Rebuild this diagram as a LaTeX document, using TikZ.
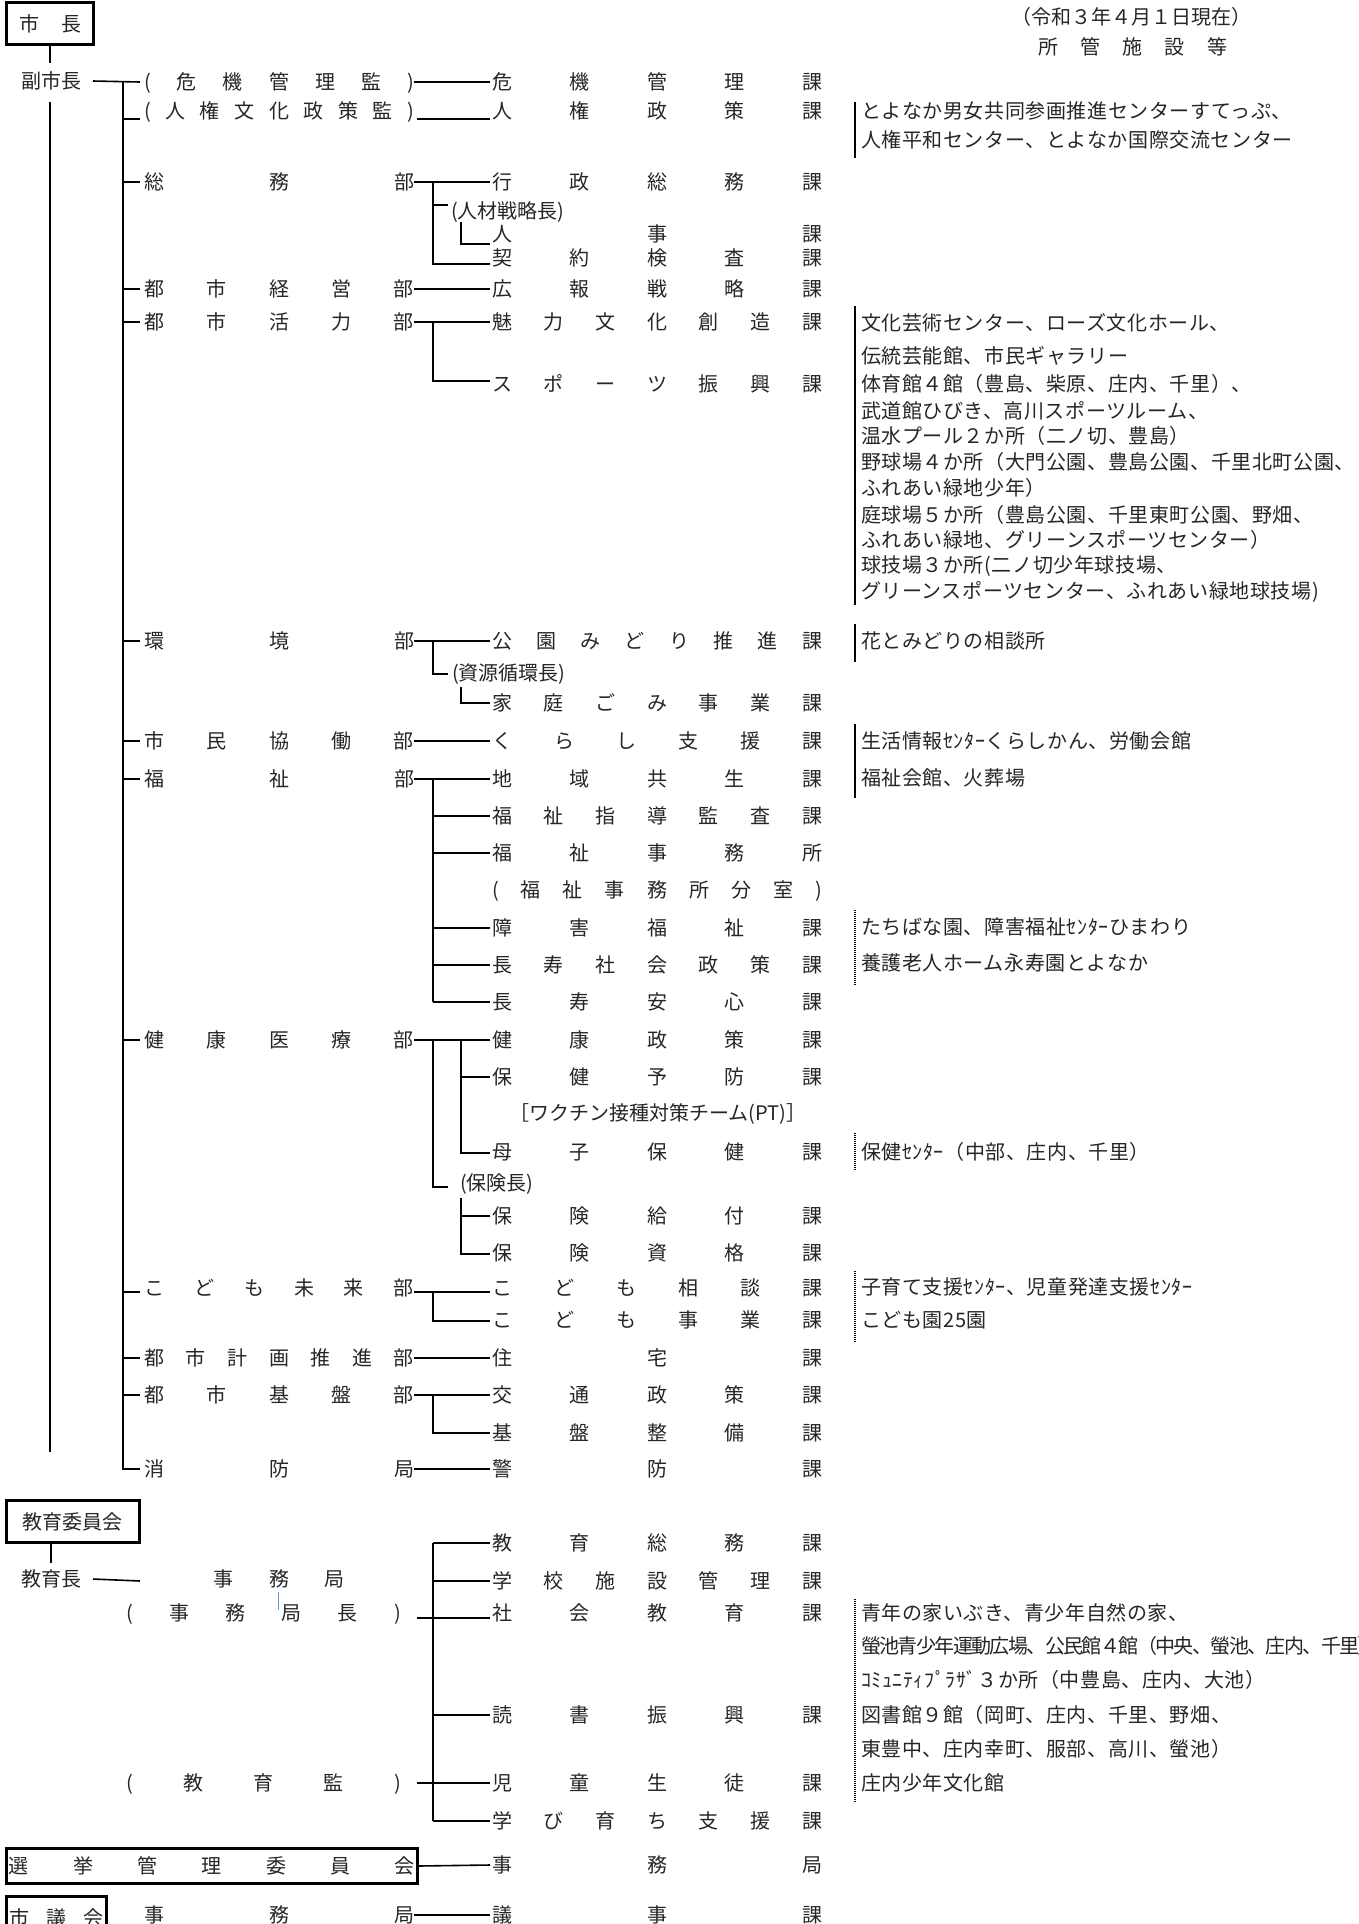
\documentclass[tikz,border=0pt]{standalone}
\usepackage{fontspec}
\newfontfamily\jp{Noto Sans CJK JP}
\newfontfamily\jpwide[LetterSpace=3]{Noto Sans CJK JP}
\newfontfamily\jpnarrow[LetterSpace=-8]{Noto Sans CJK JP}
\definecolor{ink}{HTML}{262626}
\definecolor{bluetick}{RGB}{91,155,213}
\tikzset{
  lbl/.style={inner sep=0pt, outer sep=0pt, text height=8.8pt, text depth=1.2pt,
              font={\jp\fontsize{10pt}{12pt}\selectfont}, text=ink},
  rlbl/.style={lbl, font={\jpwide\fontsize{10pt}{12pt}\selectfont}},
  conn/.style={line width=0.8pt},
  spine/.style={line width=0.55pt},
  frame/.style={lbl, draw, line width=1.5pt},
  solidbar/.style={line width=0.8pt},
  dotbar/.style={line width=0.9pt, dash pattern=on 0.5pt off 0.5pt},
}
\newcommand\kaT[3]{\node[lbl,anchor=west] (#1) at (492,#2) {\makebox[165pt][s]{#3}};}
\newcommand\buT[3]{\node[lbl,anchor=west] (#1) at (144,#2) {\makebox[135pt][s]{#3}};}
\newcommand\riT[3]{\node[rlbl,anchor=west] (#1) at (861,#2) {#3};}
\begin{document}
\begin{tikzpicture}[x=0.5pt,y=-0.5pt]
\useasboundingbox (0,0) rectangle (1359,1924);
\fill[white] (0,0) rectangle (1359,1924);

% ---------- top ----------
\node[frame, minimum width=43.5pt, minimum height=21pt] (mayor) at (50,23.5) {\makebox[31pt][s]{市 長}};
\node[lbl] (vmayor) at (51,81) {副市長};
\draw[conn] (mayor.south) -- ++(0,18);
\draw[spine] (50,102) -- (50,1452);
\draw[conn] ([xshift=6pt]vmayor.east) -- (140,82);
\draw[conn] (123,82) -- (123,1469) -- (140,1469);

% ---------- department column ----------
\buT{kikikanrikan}{82}{( 危 機 管 理 監 )}
\buT{jinkenkan}{111}{( 人 権 文 化 政 策 監 )}
\buT{somu}{182}{総 務 部}
\buT{toshikeiei}{289}{都 市 経 営 部}
\buT{toshikatsu}{322}{都 市 活 力 部}
\buT{kankyo}{641}{環 境 部}
\buT{shimin}{741}{市 民 協 働 部}
\buT{fukushi}{779}{福 祉 部}
\buT{kenko}{1040}{健 康 医 療 部}
\buT{kodomo}{1288}{こ ど も 未 来 部}
\buT{toshikeikaku}{1358}{都 市 計 画 推 進 部}
\buT{toshikiban}{1395}{都 市 基 盤 部}
\buT{shobo}{1469}{消 防 局}

% ticks from trunk
\draw[conn] (123,119) -- (140,119);
\foreach \yy in {182,289,322,641,741,779,1040,1292,1358,1395}
  \draw[conn] (123,\yy) -- (140,\yy);

% ---------- section column ----------
\kaT{kiki}{82}{危 機 管 理 課}
\kaT{jinken}{111}{人 権 政 策 課}
\kaT{gyosei}{182}{行 政 総 務 課}
\kaT{jinji}{234}{人 事 課}
\kaT{keiyaku}{258}{契 約 検 査 課}
\kaT{koho}{289}{広 報 戦 略 課}
\kaT{miryoku}{322}{魅 力 文 化 創 造 課}
\kaT{sports}{384}{ス ポ ー ツ 振 興 課}
\kaT{koen}{641}{公 園 み ど り 推 進 課}
\kaT{gomi}{703}{家 庭 ご み 事 業 課}
\kaT{kurashi}{741}{く ら し 支 援 課}
\kaT{chiiki}{779}{地 域 共 生 課}
\kaT{shido}{816}{福 祉 指 導 監 査 課}
\kaT{jimusho}{853}{福 祉 事 務 所}
\kaT{bunshitsu}{890}{( 福 祉 事 務 所 分 室 )}
\kaT{shogai}{928}{障 害 福 祉 課}
\kaT{chojushakai}{965}{長 寿 社 会 政 策 課}
\kaT{chojuanshin}{1002}{長 寿 安 心 課}
\kaT{kenkoseisaku}{1040}{健 康 政 策 課}
\kaT{hokenyobo}{1077}{保 健 予 防 課}
\node[lbl] (vaccine) at (658,1113) {［ワクチン接種対策チーム(PT)］};
\kaT{boshi}{1152}{母 子 保 健 課}
\kaT{kyufu}{1216}{保 険 給 付 課}
\kaT{shikaku}{1253}{保 険 資 格 課}
\kaT{kodomosodan}{1288}{こ ど も 相 談 課}
\kaT{kodomojigyo}{1320}{こ ど も 事 業 課}
\kaT{jutaku}{1358}{住 宅 課}
\kaT{kotsu}{1395}{交 通 政 策 課}
\kaT{kiban}{1433}{基 盤 整 備 課}
\kaT{keibo}{1469}{警 防 課}

\node[lbl,anchor=west] (jinzai) at (451,211) {(人材戦略長)};
\node[lbl,anchor=west] (shigen) at (452,673) {(資源循環長)};
\node[lbl,anchor=west] (hokencho) at (460,1183) {(保険長)};

% connectors dept -> section
\draw[conn] (kikikanrikan.east) -- ([xshift=-1pt]kiki.west);
\draw[conn] (417,119) -- (490,119);
\draw[conn] (somu.east) -- ([xshift=-1pt]gyosei.west);
\draw[conn] (433,182) -- (433,264) -- (490,264);
\draw[conn] (433,205) -- (448,205);
\draw[conn] (461,222) -- (461,244) -- (490,244);
\draw[conn] (toshikeiei.east) -- ([xshift=-1pt]koho.west);
\draw[conn] (toshikatsu.east) -- ([xshift=-1pt]miryoku.west);
\draw[conn] (433,322) |- (490,381);
\draw[conn] (kankyo.east) -- ([xshift=-1pt]koen.west);
\draw[conn] (433,641) |- (448,674);
\draw[conn] (461,687) |- (490,703);
\draw[conn] (shimin.east) -- ([xshift=-1pt]kurashi.west);
\draw[conn] (fukushi.east) -- ([xshift=-1pt]chiiki.west);
\draw[conn] (433,779) -- (433,1002);
\foreach \yy in {816,853,928,965,1002} \draw[conn] (433,\yy) -- (490,\yy);
\draw[conn] (kenko.east) -- ([xshift=-1pt]kenkoseisaku.west);
\draw[conn] (433,1040) |- (448,1187);
\draw[conn] (461,1040) |- (490,1153);
\draw[conn] (461,1077) -- (490,1077);
\draw[conn] (461,1198) |- (490,1254);
\draw[conn] (461,1216) -- (490,1216);
\draw[conn] (414,1292) -- (490,1292);
\draw[conn] (433,1292) |- (490,1321);
\draw[conn] (toshikeikaku.east) -- ([xshift=-1pt]jutaku.west);
\draw[conn] (toshikiban.east) -- ([xshift=-1pt]kotsu.west);
\draw[conn] (433,1395) |- (490,1433);
\draw[conn] (shobo.east) -- ([xshift=-1pt]keibo.west);

% ---------- education ----------
\node[lbl] (kyoikucho) at (51,1579) {教育長};
\node[frame, minimum width=66.5pt, minimum height=21pt] (kyoikuiinkai) at (73,1521.5) {教育委員会};
\draw[conn] (kyoikuiinkai.south -| kyoikucho) -- ++(0,20);
\draw[conn] ([xshift=6pt]kyoikucho.east) -- (140,1581);
\node[lbl] (jimukyoku) at (279,1579) {\makebox[66pt][s]{事 務 局}};
\node[lbl,anchor=west] (jimukyokucho) at (126,1613) {\makebox[137.5pt][s]{( 事 務 局 長 )}};
\node[lbl,anchor=west] (kyoikukan) at (126,1783) {\makebox[137.5pt][s]{( 教 育 監 )}};
\draw[bluetick, line width=0.5pt] (278,1592) -- (278,1610);

\kaT{kyoikusomu}{1543}{教 育 総 務 課}
\kaT{gakko}{1581}{学 校 施 設 管 理 課}
\kaT{shakai}{1613}{社 会 教 育 課}
\kaT{dokusho}{1715}{読 書 振 興 課}
\kaT{jido}{1783}{児 童 生 徒 課}
\kaT{manabi}{1821}{学 び 育 ち 支 援 課}

\draw[conn] (433,1543) -- (433,1821);
\foreach \yy in {1543,1581,1618,1715,1783,1821} \draw[conn] (433,\yy) -- (490,\yy);
\draw[conn] (417,1618) -- (433,1618);
\draw[conn] (417,1783) -- (433,1783);

% ---------- election / council ----------
\node[frame, minimum width=205.5pt, minimum height=17.5pt] (senkyo) at (212,1866) {\makebox[203pt][s]{選 挙 管 理 委 員 会}};
\kaT{senkyojimu}{1865}{事 務 局}
\draw[conn] (senkyo.east) -- ([xshift=-1pt]senkyojimu.west);

\node[frame, minimum width=50pt, minimum height=21.75pt] (shigikai) at (56.5,1918) {\makebox[47pt][s]{市 議 会}};
\buT{gikaijimu}{1915}{事 務 局}
\kaT{giji}{1915}{議 事 課}
\draw[conn] (gikaijimu.east) -- ([xshift=-1pt]giji.west);

% ---------- right column ----------
\node[lbl] (date) at (1131,17) {（令和３年４月１日現在）};
\node[lbl] (shokan) at (1132.5,47) {\makebox[94.5pt][s]{所 管 施 設 等}};

\draw[solidbar] (855,102) -- (855,158);
\draw[solidbar] (855,306) -- (855,605);
\draw[solidbar] (855,624) -- (855,662);
\draw[solidbar] (855,724) -- (855,798);
\draw[dotbar] (855,910) -- (855,985);
\draw[dotbar] (855,1133) -- (855,1171);
\draw[dotbar] (855,1271) -- (855,1342);
\draw[dotbar] (855,1599) -- (855,1802);

\riT{r1}{111}{とよなか男女共同参画推進センターすてっぷ、}
\riT{r2}{140}{人権平和センター、とよなか国際交流センター}
\riT{r3}{323}{文化芸術センター、ローズ文化ホール、}
\riT{r4}{356}{伝統芸能館、市民ギャラリー}
\riT{r5}{384}{体育館４館（豊島、柴原、庄内、千里）、}
\riT{r6}{411}{武道館ひびき、高川スポーツルーム、}
\riT{r7}{436}{温水プール２か所（二ノ切、豊島）}
\riT{r8}{462}{野球場４か所（大門公園、豊島公園、千里北町公園、}
\riT{r9}{488}{ふれあい緑地少年）}
\riT{r10}{515}{庭球場５か所（豊島公園、千里東町公園、野畑、}
\riT{r11}{540}{ふれあい緑地、グリーンスポーツセンター）}
\riT{r12}{565}{球技場３か所(二ノ切少年球技場、}
\riT{r13}{591}{グリーンスポーツセンター、ふれあい緑地球技場)}
\riT{r14}{641}{花とみどりの相談所}
\riT{r15}{741}{生活情報ｾﾝﾀｰくらしかん、労働会館}
\riT{r16}{778}{福祉会館、火葬場}
\riT{r17}{927}{たちばな園、障害福祉ｾﾝﾀｰひまわり}
\riT{r18}{963}{養護老人ホーム永寿園とよなか}
\riT{r19}{1152}{保健ｾﾝﾀｰ（中部、庄内、千里）}
\riT{r20}{1287}{子育て支援ｾﾝﾀｰ、児童発達支援ｾﾝﾀｰ}
\riT{r21}{1320}{こども園25園}
\riT{r22}{1613}{青年の家いぶき、青少年自然の家、}
\node[lbl,anchor=west,font={\jpnarrow\fontsize{10pt}{12pt}\selectfont}] (r23) at (861,1646) {螢池青少年運動広場、公民館４館（中央、螢池、庄内、千里）};
\riT{r24}{1680}{ｺﾐｭﾆﾃｨﾌﾟﾗｻﾞ３か所（中豊島、庄内、大池）}
\riT{r25}{1715}{図書館９館（岡町、庄内、千里、野畑、}
\riT{r26}{1749}{東豊中、庄内幸町、服部、高川、螢池）}
\riT{r27}{1783}{庄内少年文化館}
\end{tikzpicture}
\end{document}
